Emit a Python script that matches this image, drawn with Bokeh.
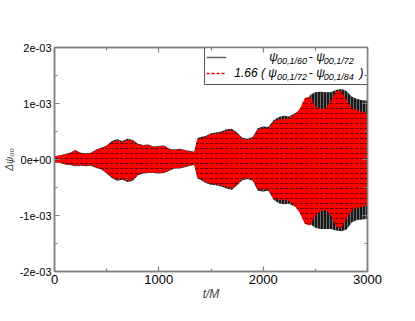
import numpy as np
from bokeh.plotting import figure
from bokeh.models import Range1d, FixedTicker, LinearAxis, Label
from bokeh.embed import file_html
from bokeh.resources import INLINE

# ---- data (envelopes of the two oscillating differences, in units of 1e-3) ----
t_env = [0, 50, 100, 150, 200, 250, 300, 350, 400, 450, 500, 550, 600, 650, 700,
         750, 800, 850, 900, 950, 1000, 1050, 1100, 1150, 1200, 1250, 1300, 1340,
         1370, 1400, 1450, 1500, 1550, 1600, 1650, 1700, 1750, 1800, 1850, 1900,
         1950, 2000, 2050, 2100, 2150, 2200, 2250, 2300, 2350, 2400, 2450, 2500,
         2550, 2600, 2650, 2700, 2750, 2800, 2850, 2900, 2950, 3000]
black_upper_e3 = [0.06, 0.07, 0.10, 0.12, 0.17, 0.12, 0.11, 0.12, 0.18, 0.21, 0.25, 0.33,
                  0.36, 0.33, 0.37, 0.35, 0.28, 0.26, 0.27, 0.23, 0.24, 0.25, 0.19, 0.18,
                  0.19, 0.17, 0.15, 0.14, 0.38, 0.40, 0.42, 0.47, 0.48, 0.50, 0.54, 0.55,
                  0.48, 0.39, 0.37, 0.40, 0.56, 0.59, 0.58, 0.70, 0.76, 0.78, 0.77, 0.82,
                  0.86, 0.95, 1.15, 1.20, 1.21, 1.20, 1.20, 1.24, 1.26, 1.22, 1.12, 1.08,
                  1.06, 1.05]
black_lower_e3 = [-0.05, -0.06, -0.09, -0.10, -0.12, -0.11, -0.12, -0.11, -0.15, -0.18,
                  -0.25, -0.33, -0.38, -0.36, -0.40, -0.38, -0.28, -0.25, -0.24, -0.24,
                  -0.25, -0.24, -0.20, -0.16, -0.16, -0.14, -0.11, -0.10, -0.34, -0.36,
                  -0.42, -0.45, -0.46, -0.48, -0.52, -0.54, -0.46, -0.37, -0.35, -0.38,
                  -0.56, -0.57, -0.56, -0.72, -0.78, -0.80, -0.79, -0.84, -0.86, -0.95,
                  -1.15, -1.22, -1.24, -1.24, -1.24, -1.27, -1.28, -1.25, -1.12, -1.08,
                  -1.07, -1.06]
red_upper_e3 = [0.06, 0.07, 0.09, 0.11, 0.16, 0.11, 0.10, 0.11, 0.17, 0.20, 0.24, 0.31,
                0.34, 0.31, 0.35, 0.33, 0.27, 0.25, 0.26, 0.22, 0.23, 0.24, 0.18, 0.17,
                0.18, 0.16, 0.14, 0.13, 0.36, 0.38, 0.40, 0.45, 0.46, 0.48, 0.51, 0.52,
                0.46, 0.37, 0.35, 0.38, 0.53, 0.56, 0.55, 0.68, 0.72, 0.72, 0.74, 0.80,
                0.90, 1.10, 1.12, 0.95, 0.90, 0.92, 1.05, 1.22, 1.22, 1.05, 0.92, 0.88,
                0.85, 0.82]
red_lower_e3 = [-0.05, -0.06, -0.08, -0.09, -0.11, -0.10, -0.11, -0.10, -0.14, -0.17,
                -0.24, -0.31, -0.36, -0.34, -0.38, -0.36, -0.27, -0.24, -0.23, -0.23,
                -0.24, -0.23, -0.19, -0.15, -0.15, -0.13, -0.10, -0.09, -0.32, -0.34,
                -0.40, -0.43, -0.44, -0.46, -0.49, -0.51, -0.44, -0.35, -0.33, -0.36,
                -0.53, -0.54, -0.53, -0.70, -0.72, -0.72, -0.74, -0.82, -0.95, -1.15,
                -1.18, -1.00, -0.92, -0.90, -1.00, -1.20, -1.22, -1.05, -0.90, -0.86,
                -0.84, -0.82]

x_ticks = [0, 1000, 2000, 3000]
x_minor_ticks = [500, 1500, 2500]
y_ticks = [-2e-3, -1e-3, 0.0, 1e-3, 2e-3]
y_minor_ticks = [-1.5e-3, -0.5e-3, 0.5e-3, 1.5e-3]
y_tick_labels = ["-2e-03", "-1e-03", "0e+00", "1e-03", "2e-03"]

legend_row1 = ["\u03c8", "00,1/60", "- \u03c8", "00,1/72"]
legend_row2 = ["1.66 ( \u03c8", "00,1/72", "- \u03c8", "00,1/84", ")"]

scale = 1e-3
bu = np.array(black_upper_e3) * scale
bl = np.array(black_lower_e3) * scale
ru = np.array(red_upper_e3) * scale
rl = np.array(red_lower_e3) * scale

FONT = "Liberation Sans"
GREY = "#808080"

p = figure(width=408, height=315, output_backend="svg", toolbar_location=None,
           x_range=Range1d(0, 3000), y_range=Range1d(-2e-3, 2e-3),
           min_border_left=52, min_border_right=41, min_border_top=47,
           min_border_bottom=44, background_fill_color="white",
           border_fill_color="white")
p.grid.visible = False
p.outline_line_color = GREY
p.outline_line_width = 1.5

xt = FixedTicker(ticks=x_ticks, minor_ticks=x_minor_ticks)
yt = FixedTicker(ticks=y_ticks, minor_ticks=y_minor_ticks)
bottom_axis = p.below[0]
left_axis = p.left[0]
bottom_axis.ticker = xt
left_axis.ticker = yt
left_axis.major_label_overrides = {v: s for v, s in zip(y_ticks, y_tick_labels)}

top_axis = LinearAxis(ticker=xt, major_label_overrides={v: "" for v in x_ticks})
right_axis = LinearAxis(ticker=yt, major_label_overrides={v: "" for v in y_ticks})
p.add_layout(top_axis, "above")
p.add_layout(right_axis, "right")

for ax in [bottom_axis, left_axis, top_axis, right_axis]:
    ax.axis_line_color = GREY
    ax.axis_line_width = 1.5
    ax.major_tick_line_color = GREY
    ax.minor_tick_line_color = GREY
    ax.major_tick_line_width = 1.2
    ax.minor_tick_line_width = 1.2
    ax.major_tick_in = 5
    ax.major_tick_out = 0
    ax.minor_tick_in = 3
    ax.minor_tick_out = 0
    ax.major_label_text_font = FONT
    ax.major_label_text_color = "black"

bottom_axis.major_label_text_font_size = "13px"
bottom_axis.major_label_standoff = 3
bottom_axis.axis_label = "t/M"
bottom_axis.axis_label_text_font = FONT
bottom_axis.axis_label_text_font_style = "italic"
bottom_axis.axis_label_text_font_size = "12px"
bottom_axis.axis_label_standoff = 0
left_axis.major_label_text_font_size = "11px"
left_axis.major_label_standoff = 3
left_axis.axis_label = "\u0394\u03c8\u2080\u2080"
left_axis.axis_label_text_font = FONT
left_axis.axis_label_text_font_style = "italic"
left_axis.axis_label_text_font_size = "10px"
left_axis.axis_label_standoff = 2

# ---- signal bands ----
p.varea(x=t_env, y1=bl, y2=bu, fill_color="black", fill_alpha=0.9,
        hatch_pattern="vertical_line", hatch_color="#9a9a9a", hatch_scale=3,
        hatch_weight=0.8, hatch_alpha=0.8)
p.varea(x=t_env, y1=rl, y2=ru, fill_color="#ff0000", fill_alpha=1.0,
        hatch_pattern="horizontal_dash", hatch_color="black", hatch_scale=5,
        hatch_weight=1, hatch_alpha=0.6)

# ---- legend (drawn by hand so that subscripts can be shown) ----
fx0, fx1, fy0, fy1 = 52.0, 367.0, 48.0, 272.0


def px_x(X):
    return (X - fx0) * 3000.0 / (fx1 - fx0)


def px_y(Y):
    return 2e-3 - (Y - fy0) * 4e-3 / (fy1 - fy0)


p.quad(left=px_x(203), right=3000, top=2e-3, bottom=px_y(85),
       fill_color="white", line_color="#555555", line_width=1)
p.line(x=[px_x(205), px_x(225)], y=[px_y(58), px_y(58)], line_color="#666666",
       line_width=1.5)
p.line(x=[px_x(205), px_x(225)], y=[px_y(74), px_y(74)], line_color="#ff0000",
       line_width=1.3, line_dash="3 2")


def add_text(txt, X, Y, size):
    p.add_layout(Label(x=px_x(X), y=px_y(Y), text=txt, text_font=FONT,
                       text_font_style="italic", text_font_size=size,
                       text_align="left", text_baseline="middle",
                       text_color="black"))


row1_x = [268, 276, 308, 323]
row1_y = [57, 61, 57, 61]
row1_sz = ["12px", "9px", "12px", "9px"]
for txt, X, Y, s in zip(legend_row1, row1_x, row1_y, row1_sz):
    add_text(txt, X, Y, s)
row2_x = [233, 276, 308, 323, 359]
row2_y = [73, 77, 73, 77, 73]
row2_sz = ["12px", "9px", "12px", "9px", "12px"]
for txt, X, Y, s in zip(legend_row2, row2_x, row2_y, row2_sz):
    add_text(txt, X, Y, s)

open("out.html", "w").write(file_html(p, INLINE))
